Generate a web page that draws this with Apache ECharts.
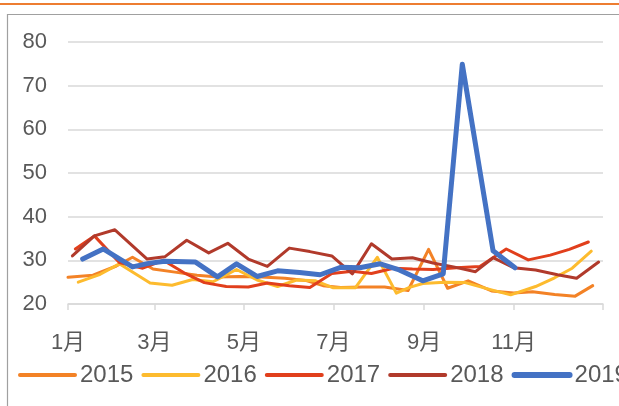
<!DOCTYPE html>
<html>
<head>
<meta charset="utf-8">
<script src="https://cdn.jsdelivr.net/npm/echarts@6/dist/echarts.min.js"></script>
<style>
  html, body { margin: 0; padding: 0; background: #fff; }
  #chart { width: 619px; height: 406px; }
</style>
</head>
<body>
<div id="chart"></div>
<script>
// x values are day of the year (0 = 1月1日)
let tickDays = [0, 59, 120, 181, 243, 304, 365]
let tickLabels = ['1月', '3月', '5月', '7月', '9月', '11月', '']

let years = ['2015', '2016', '2017', '2018', '2019']
let colors = ['#F38226', '#FDBB2E', '#E13F1C', '#B13A2B', '#4472C4']

let days2015 = [0, 17, 33, 44, 58, 73, 88, 102, 117, 132, 148, 162, 174, 186, 201, 216, 232, 246, 259, 273, 289, 304, 317, 332, 346, 358]
let vals2015 = [26.1, 26.6, 28.7, 30.7, 28.0, 27.3, 26.6, 26.2, 26.3, 26.2, 25.9, 25.4, 24.2, 23.8, 23.9, 23.9, 23.1, 32.5, 23.6, 25.3, 23.0, 22.5, 22.8, 22.2, 21.8, 24.2]

let days2016 = [7, 22, 35, 56, 71, 85, 99, 115, 129, 143, 156, 169, 181, 196, 211, 224, 233, 242, 257, 271, 287, 302, 319, 332, 344, 357]
let vals2016 = [25.0, 26.8, 29.2, 24.8, 24.3, 25.6, 25.1, 27.9, 25.5, 24.0, 25.5, 25.3, 23.7, 23.7, 30.7, 22.5, 23.8, 24.7, 25.0, 24.9, 23.4, 22.1, 24.0, 26.0, 28.2, 32.1]

let days2017 = [5, 18, 35, 51, 65, 80, 93, 108, 123, 136, 151, 165, 180, 194, 207, 222, 235, 249, 265, 281, 299, 314, 329, 342, 355]
let vals2017 = [32.6, 35.6, 29.5, 28.2, 30.0, 27.0, 24.9, 24.0, 23.9, 24.8, 24.2, 23.8, 27.0, 27.5, 27.0, 28.2, 28.0, 27.9, 28.3, 28.6, 32.6, 30.1, 31.2, 32.5, 34.2]

let days2018 = [3, 18, 32, 54, 66, 81, 96, 109, 123, 136, 151, 165, 180, 194, 207, 221, 235, 249, 263, 278, 290, 304, 319, 334, 347, 362]
let vals2018 = [31.0, 35.6, 37.0, 30.3, 30.8, 34.6, 31.7, 33.9, 30.3, 28.6, 32.8, 32.0, 31.0, 26.9, 33.8, 30.3, 30.6, 29.4, 28.5, 27.4, 30.6, 28.3, 27.8, 26.7, 25.9, 29.6]

let days2019 = [10, 24, 44, 55, 66, 87, 102, 115, 129, 143, 158, 172, 186, 199, 213, 226, 242, 256, 269, 290, 305]
let vals2019 = [30.3, 32.6, 28.5, 29.3, 29.8, 29.6, 26.2, 29.2, 26.3, 27.6, 27.2, 26.7, 28.4, 28.3, 29.2, 27.8, 25.3, 26.9, 74.9, 32.2, 28.3]

let allDays = [days2015, days2016, days2017, days2018, days2019]
let allVals = [vals2015, vals2016, vals2017, vals2018, vals2019]

let fontFamily = '"Liberation Sans", Arial, "Noto Sans CJK SC", sans-serif'
let textColor = '#595959'
let gridColor = '#D9D9D9'

let series = years.map((name, i) => ({
    name: name,
    type: 'line',
    symbol: 'none',
    data: allDays[i].map((d, j) => [d, allVals[i][j]]),
    lineStyle: {
        color: colors[i],
        width: i === 4 ? 5 : 3,
        join: 'round',
        cap: 'round'
    },
    itemStyle: { color: colors[i] },
    z: 2 + i
}))

let legendData = years.map((name, i) => ({
    name: name,
    lineStyle: { width: i === 4 ? 6 : 4, cap: 'round' }
}))

let option = {
    animation: false,
    backgroundColor: '#fff',
    grid: {
        left: 68,
        right: 16,
        top: 42,
        bottom: 102
    },
    xAxis: {
        type: 'value',
        min: 0,
        max: 365,
        axisLine: { show: true, lineStyle: { color: gridColor, width: 1.5 } },
        axisTick: {
            show: true,
            customValues: tickDays,
            length: 6,
            lineStyle: { color: gridColor, width: 1.5 }
        },
        splitLine: { show: false },
        axisLabel: {
            customValues: tickDays.slice(0, 6),
            formatter: value => tickLabels[tickDays.indexOf(value)],
            margin: 28,
            fontSize: 22,
            color: textColor,
            fontFamily: fontFamily
        }
    },
    yAxis: {
        type: 'value',
        min: 20,
        max: 80,
        interval: 10,
        axisLine: { show: false },
        axisTick: { show: false },
        splitLine: { lineStyle: { color: gridColor, width: 1.5 } },
        axisLabel: {
            margin: 21,
            fontSize: 22,
            color: textColor,
            fontFamily: fontFamily
        }
    },
    legend: {
        data: legendData,
        left: 13,
        top: 358,
        width: 900,
        itemWidth: 55,
        itemHeight: 14,
        itemGap: 8,
        itemStyle: { opacity: 0 },
        textStyle: {
            fontSize: 24,
            color: textColor,
            fontFamily: fontFamily
        }
    },
    graphic: [
        {
            type: 'line',
            shape: { x1: 0, y1: 4, x2: 619, y2: 4 },
            style: { stroke: '#ED7D31', lineWidth: 2 }
        },
        {
            type: 'polyline',
            shape: { points: [[7.5, 406], [7.5, 14.5], [619, 14.5]] },
            style: { stroke: '#A0A0A0', lineWidth: 1.2, fill: null }
        }
    ],
    series: series
}

let chart = echarts.init(document.getElementById('chart'))
chart.setOption(option)
</script>
</body>
</html>
